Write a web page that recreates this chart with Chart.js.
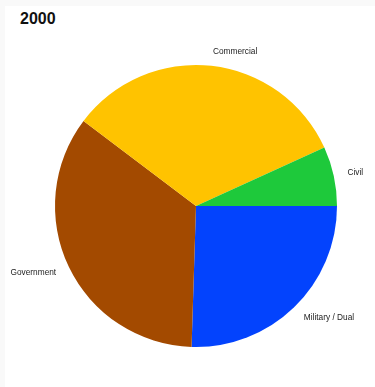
<!DOCTYPE html>
<html>
<head>
<meta charset="utf-8">
<script src="https://cdn.jsdelivr.net/npm/chart.js@4/dist/chart.umd.min.js"></script>
<style>
    html, body { margin: 0; padding: 0; background: #f9f9f9; }
    .card { position: absolute; left: 5px; top: 6px; width: 370px; height: 381px; background: #fff; }
    .title { position: absolute; left: 15px; top: 4px; font: bold 16px "Liberation Sans", Arial, sans-serif; color: #111; }
    canvas { position: absolute; left: 0; top: 0; }
</style>
</head>
<body>
<div class="card">
    <div class="title">2000</div>
    <canvas id="pieChart" width="370" height="381"></canvas>
</div>
<script>
// order as in the legend, drawn counterclockwise from 3 o'clock
const categories = ["Civil", "Commercial", "Government", "Military / Dual"];
const shares = [6.8, 32.9, 34.8, 25.5];
const colors = ["#1ec93b", "#ffc300", "#a34a00", "#0343fd"];

// outside labels next to each slice
const outsideLabels = {
    id: "outsideLabels",
    afterDatasetsDraw(chart) {
        const ctx = chart.ctx;
        const meta = chart.getDatasetMeta(0);
        ctx.save();
        ctx.font = "8.3px 'Liberation Sans', Arial, sans-serif";
        ctx.fillStyle = "#222";
        ctx.textBaseline = "middle";
        meta.data.forEach(function (arc, i) {
            const mid = (arc.startAngle + arc.endAngle) / 2;
            const r = arc.outerRadius + 14;
            const x = arc.x + Math.cos(mid) * r;
            const y = arc.y + Math.sin(mid) * r;
            ctx.textAlign = Math.cos(mid) >= 0 ? "left" : "right";
            ctx.fillText(chart.data.labels[i], x, y);
        });
        ctx.restore();
    }
};

// Chart.js only goes clockwise, so feed the slices reversed
const labelsCw = categories.slice().reverse();
const sharesCw = shares.slice().reverse();
const colorsCw = colors.slice().reverse();

new Chart(document.getElementById("pieChart"), {
    type: "pie",
    data: {
        labels: labelsCw,
        datasets: [{
            data: sharesCw,
            backgroundColor: colorsCw,
            borderWidth: 0
        }]
    },
    options: {
        responsive: false,
        animation: false,
        rotation: 90,
        layout: { padding: { left: 50, right: 38, top: 59, bottom: 40 } },
        plugins: {
            legend: { display: false },
            tooltip: { enabled: false }
        }
    },
    plugins: [outsideLabels]
});
</script>
</body>
</html>
